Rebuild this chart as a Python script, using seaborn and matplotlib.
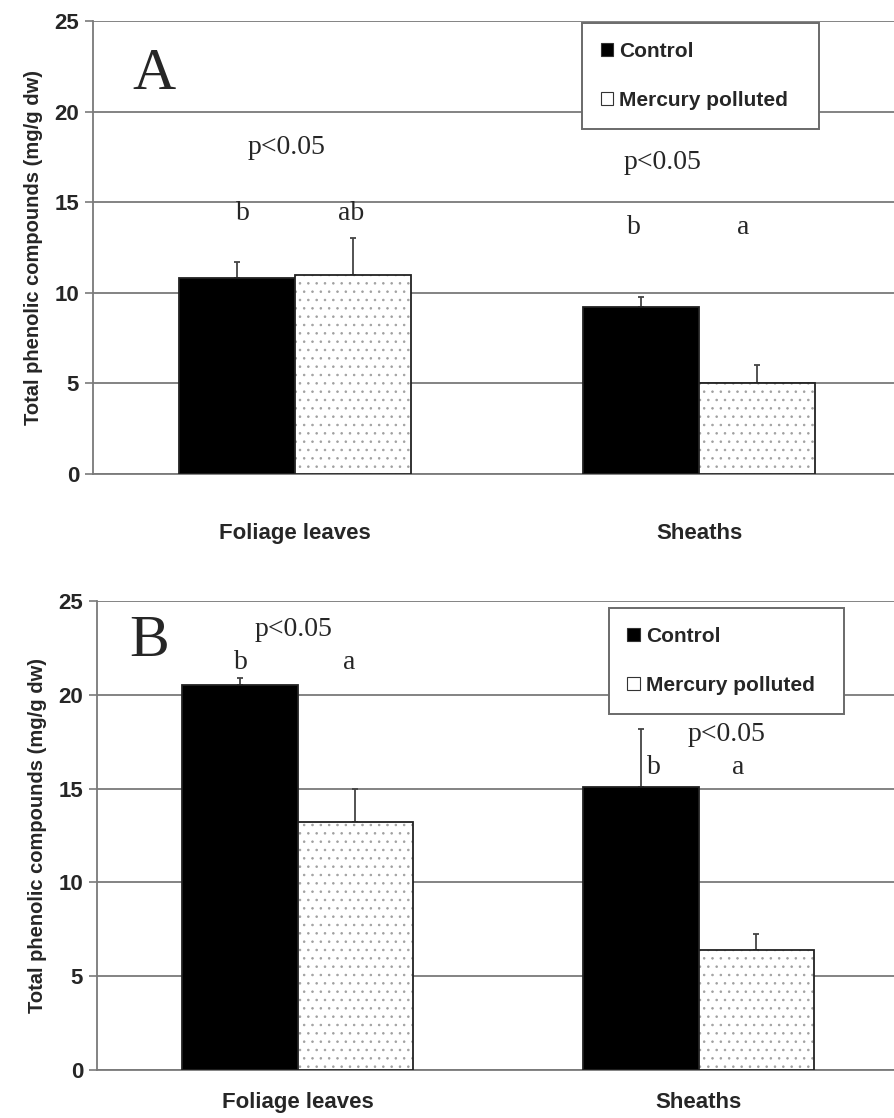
import numpy as np
import pandas as pd
import matplotlib
matplotlib.use("Agg")
import matplotlib.pyplot as plt
from matplotlib.patches import Rectangle
import seaborn as sns

sns.set_theme(style="white")
plt.rcParams['font.family'] = ['Liberation Sans', 'DejaVu Sans']
plt.rcParams['hatch.color'] = '#a0a0a0'
plt.rcParams['hatch.linewidth'] = 0.6

tissues = ["Foliage leaves", "Sheaths"]
groups = ["Control", "Mercury polluted"]

# panel A: means and upper error (mg/g dw)
a_control = [10.8, 9.2]
a_mercury = [11.0, 5.0]
a_control_err = [0.9, 0.55]
a_mercury_err = [2.0, 1.0]

# panel B
b_control = [20.5, 15.1]
b_mercury = [13.2, 6.4]
b_control_err = [0.4, 3.1]
b_mercury_err = [1.8, 0.85]

# annotations: (text, x in category units, y value)
a_notes = [("p<0.05", -0.02, 18.0), ("b", -0.13, 14.4), ("ab", 0.14, 14.4),
           ("p<0.05", 0.91, 17.2), ("b", 0.84, 13.6), ("a", 1.11, 13.6)]
b_notes = [("p<0.05", -0.01, 23.5), ("b", -0.14, 21.7), ("a", 0.13, 21.7),
           ("p<0.05", 1.07, 17.9), ("b", 0.89, 16.1), ("a", 1.1, 16.1)]


def make_df(ctrl, merc, ctrl_err, merc_err):
    rows = []
    for i, t in enumerate(tissues):
        rows.append({"tissue": t, "group": groups[0], "value": ctrl[i], "err": ctrl_err[i]})
        rows.append({"tissue": t, "group": groups[1], "value": merc[i], "err": merc_err[i]})
    return pd.DataFrame(rows)


def draw_panel(ax, df, letter, letter_pos, notes, legend_box, xlab_pad):
    sns.barplot(data=df, x="tissue", y="value", hue="group", order=tissues,
                hue_order=groups, palette=["black", "white"], width=0.574,
                gap=0, errorbar=None, saturation=1, ax=ax, zorder=3)
    for grp_i, grp in enumerate(groups):
        sub = df[df["group"] == grp].set_index("tissue").loc[tissues]
        grp_bars = ax.containers[grp_i]
        xs = [b.get_x() + b.get_width() / 2 for b in grp_bars]
        ax.errorbar(xs, sub["value"], yerr=[np.zeros(len(xs)), sub["err"]],
                    fmt="none", ecolor="#444444", elinewidth=1.3, capsize=2.5,
                    capthick=1.3, zorder=2)
        for b in grp_bars:
            if grp_i == 1:
                b.set_hatch("..")
                b.set_edgecolor("#a0a0a0")
                b.set_linewidth(0)
                ax.add_patch(Rectangle((b.get_x(), 0), b.get_width(), b.get_height(),
                                       fill=False, edgecolor="#222222", lw=1.3, zorder=4))
            else:
                b.set_edgecolor("#222222")
                b.set_linewidth(1.3)

    ax.set_xlim(-0.5, 1.5)
    ax.set_ylim(0, 25)
    ax.set_yticks(range(0, 26, 5))
    ax.grid(axis="y", color="#7a7a7a", lw=1.3, zorder=0)
    ax.set_axisbelow(True)
    for s in ["top", "right"]:
        ax.spines[s].set_visible(False)
    for s in ["left", "bottom"]:
        ax.spines[s].set_color("#7a7a7a")
        ax.spines[s].set_linewidth(1.3)

    ax.set_xticks([-0.5, 0.5])
    ax.set_xticklabels([])
    ax.set_xticks([0, 1], minor=True)
    ax.set_xticklabels(tissues, minor=True, fontsize=16, fontweight="bold")
    ax.tick_params(axis="x", which="minor", length=0, pad=xlab_pad)
    ax.tick_params(axis="x", which="major", length=6, color="#7a7a7a", width=1.2, direction="out")
    ax.tick_params(axis="y", length=6, color="#7a7a7a", width=1.2, direction="out", left=True,
                   labelsize=16, pad=4)
    for lab in ax.get_yticklabels():
        lab.set_fontweight("bold")
    ax.set_xlabel("")
    ax.set_ylabel("Total phenolic compounds (mg/g dw)", fontsize=14.5, fontweight="bold",
                  labelpad=8)

    ax.text(letter_pos[0], letter_pos[1], letter, fontsize=43, family="Liberation Serif",
            ha="center", va="center")
    for txt, x, y in notes:
        ax.text(x, y, txt, fontsize=20, family="Liberation Serif", ha="center", va="center")

    handles, labels = ax.get_legend_handles_labels()
    leg = ax.legend(handles, labels, loc="upper left", bbox_to_anchor=legend_box,
                    mode="expand", frameon=True, fancybox=False, framealpha=1,
                    handlelength=0.6, handleheight=0.6, handletextpad=0.3,
                    labelspacing=1.45, borderpad=0.9, borderaxespad=0,
                    prop={"weight": "bold", "size": 15})
    leg.get_frame().set_edgecolor("#6a6a6a")
    leg.get_frame().set_linewidth(1.4)
    for h in leg.legend_handles:
        h.set_edgecolor("#333333")
        h.set_linewidth(0.8)
    leg.legend_handles[1].set_hatch("")


fig = plt.figure(figsize=(8.94, 11.18), dpi=100)
ax_a = fig.add_axes([93 / 894, 1 - 474 / 1118, 808 / 894, 453 / 1118])
ax_b = fig.add_axes([97 / 894, 1 - 1070 / 1118, 802 / 894, 469 / 1118])

draw_panel(ax_a, make_df(a_control, a_mercury, a_control_err, a_mercury_err),
           "A", (-0.35, 22.0), a_notes, (0.605, 0.764, 0.294, 0.232), 35)
draw_panel(ax_b, make_df(b_control, b_mercury, b_control_err, b_mercury_err),
           "B", (-0.37, 22.8), b_notes, (0.638, 0.755, 0.293, 0.23), 16)

fig.savefig("out.png", dpi=100)
